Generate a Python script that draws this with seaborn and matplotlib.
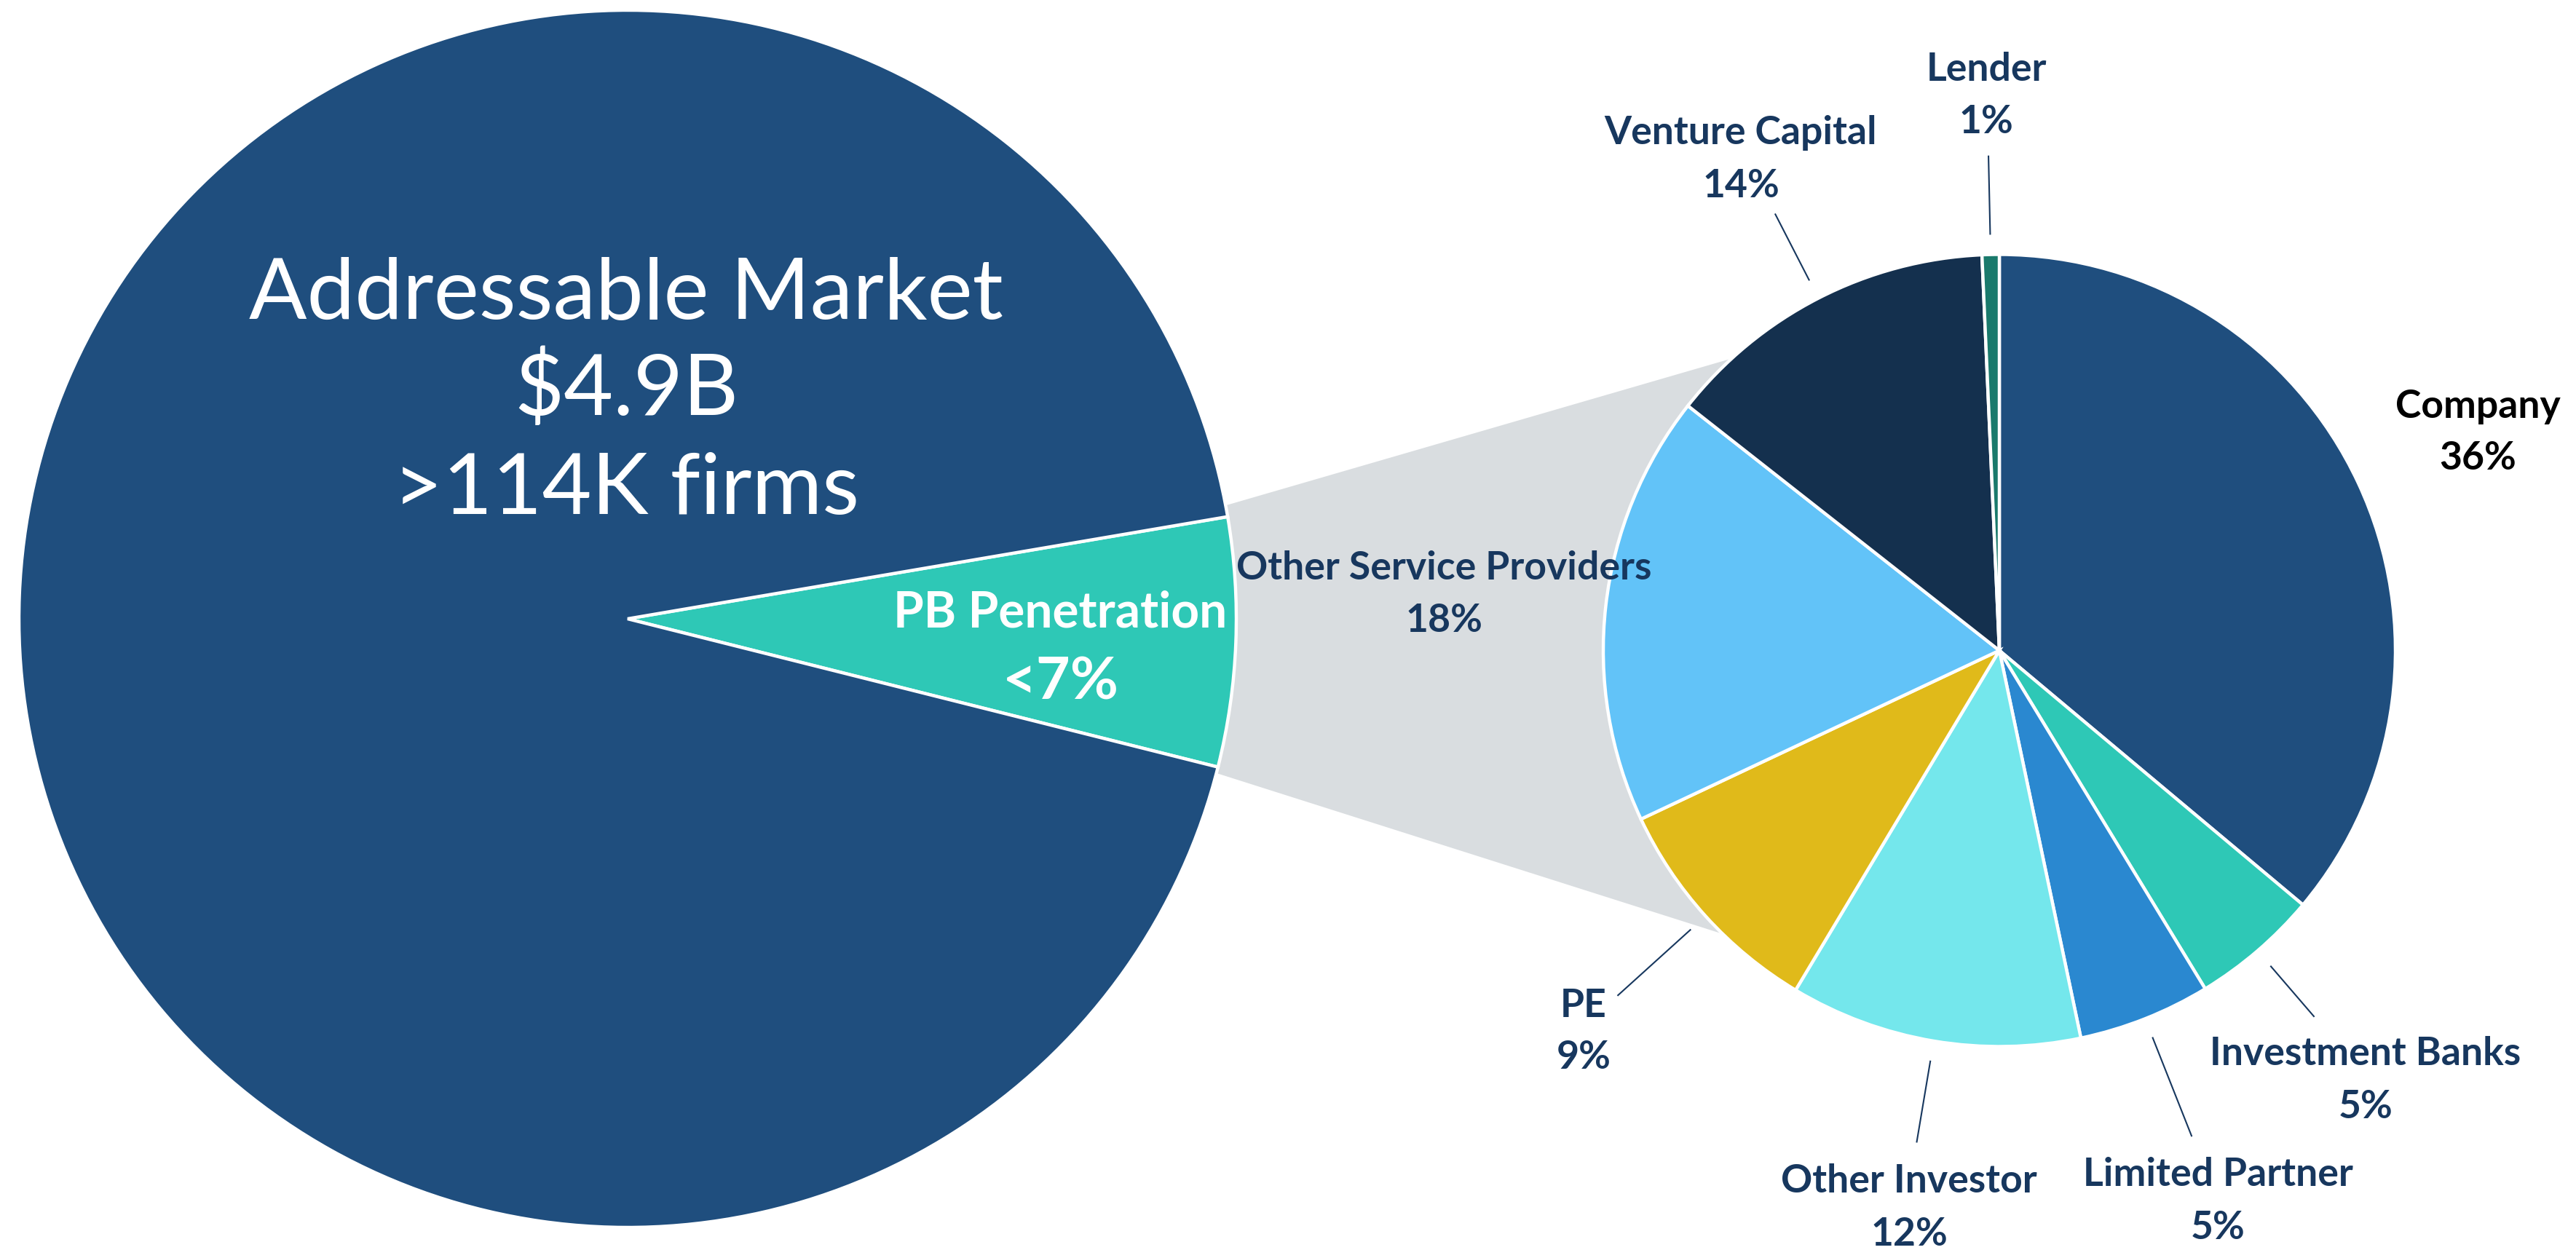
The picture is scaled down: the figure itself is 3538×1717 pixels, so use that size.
import numpy as np
import matplotlib
matplotlib.use("Agg")
import matplotlib.pyplot as plt
import seaborn as sns
from matplotlib.patches import Polygon

# ---- data -------------------------------------------------------------
market_labels = ["PB Penetration", "Remaining Market"]
market_values = [6.6, 93.4]

segment_labels = ["Company", "Investment Banks", "Limited Partner", "Other Investor",
                  "PE", "Other Service Providers", "Venture Capital", "Lender"]
segment_values = [36.1, 5.2, 5.4, 11.9, 9.4, 17.6, 13.7, 0.7]

headline_lines = ["Addressable Market", "$4.9B", ">114K firms"]
penetration_lines = ["PB Penetration", "<7%"]

# ---- style --------------------------------------------------------------
sns.set_theme(style="white")
plt.rcParams["font.family"] = ["Lato", "DejaVu Sans"]

market_colors = sns.color_palette(["#2EC8B6", "#1F4E7E"])
segment_colors = sns.color_palette(["#1F4E7E", "#2EC8B6", "#2A88D0", "#74E7EC",
                                    "#E0BA1A", "#62C3F8", "#14304E", "#1A7A6C"])
NAVY = "#17375E"
GREY = "#D9DDE0"

W, H = 3538, 1717
fig = plt.figure(figsize=(W / 100, H / 100), dpi=100)
ax = fig.add_axes([0, 0, 1, 1])


def Y(y_img):
    return H - y_img


# ---- pies ---------------------------------------------------------------
left_c, left_r = (862, Y(850)), 836
right_c, right_r = (2746, Y(893.5)), 544

edge = dict(edgecolor="white", linewidth=3.2, zorder=3)

left_wedges, _ = ax.pie(market_values, colors=market_colors, startangle=-14.1,
                        counterclock=True, center=left_c, radius=left_r,
                        wedgeprops=edge, frame=True)
right_wedges, _ = ax.pie(segment_values, colors=segment_colors, startangle=90,
                         counterclock=False, center=right_c, radius=right_r,
                         wedgeprops=edge, frame=True)


def on_circle(c, r, deg):
    a = np.deg2rad(deg)
    return (c[0] + r * np.cos(a), c[1] + r * np.sin(a))


# grey band linking the penetration slice to the breakdown pie
pb = left_wedges[0]
band = [on_circle(left_c, left_r + 4, pb.theta2 + 1.1),
        on_circle(right_c, right_r, 132.5),
        right_c,
        on_circle(right_c, right_r, -134.3),
        on_circle(left_c, left_r + 4, pb.theta1 - 0.6),
        left_c]
ax.add_patch(Polygon(band, closed=True, facecolor=GREY, edgecolor="none", zorder=1))

# ---- text helpers ---------------------------------------------------------
renderer = fig.canvas.get_renderer()


def fit_width(txt, target):
    bb = txt.get_window_extent(renderer=renderer)
    txt.set_fontsize(txt.get_fontsize() * target / bb.width)
    return txt.get_fontsize()


# headline inside the large pie
head_base = [438, 570, 706]
t0 = ax.text(860, Y(head_base[0]), headline_lines[0], ha="center", va="baseline",
             color="white", fontsize=80, zorder=5)
fs = fit_width(t0, 1036)
for line, yb in zip(headline_lines[1:], head_base[1:]):
    ax.text(860, Y(yb), line, ha="center", va="baseline", color="white",
            fontsize=fs, zorder=5)

# penetration slice label
tp = ax.text(1456, Y(862), penetration_lines[0], ha="center", va="baseline",
             color="white", fontweight="bold", fontsize=30, zorder=5)
fit_width(tp, 458)
tq = ax.text(1457, Y(960), penetration_lines[1], ha="center", va="baseline",
             color="white", fontweight="bold", fontsize=40, zorder=5)
fit_width(tq, 160)

# segment labels: centre x, baseline of name, baseline of percentage
label_pos = {
    "Company": (3403, 574, 645),
    "Investment Banks": (3249, 1463, 1536),
    "Limited Partner": (3046, 1629, 1702),
    "Other Investor": (2622, 1638, 1711),
    "PE": (2175, 1397, 1468),
    "Other Service Providers": (1983, 796, 868),
    "Venture Capital": (2391, 198, 271),
    "Lender": (2728, 111, 183),
}
probe = ax.text(0, 0, "Other Service Providers", fontweight="bold", fontsize=30)
label_fs = fit_width(probe, 569)
probe.remove()

for name, val in zip(segment_labels, segment_values):
    x, b1, b2 = label_pos[name]
    col = "black" if name == "Company" else NAVY
    ax.text(x, Y(b1), name, ha="center", va="baseline", color=col,
            fontweight="bold", fontsize=label_fs, zorder=5)
    ax.text(x, Y(b2), f"{val:.0f}%", ha="center", va="baseline", color=col,
            fontweight="bold", fontsize=label_fs, zorder=5)

# radial leader lines (outer reach as a multiple of the pie radius)
leader_reach = {"Investment Banks": 1.22, "Limited Partner": 1.32,
                "Other Investor": 1.26, "PE": 1.30, "Venture Capital": 1.24,
                "Lender": 1.25}
for w, name in zip(right_wedges, segment_labels):
    if name not in leader_reach:
        continue
    mid = 0.5 * (w.theta1 + w.theta2)
    p1 = on_circle(right_c, right_r * 1.05, mid)
    p2 = on_circle(right_c, right_r * leader_reach[name], mid)
    ax.plot([p1[0], p2[0]], [p1[1], p2[1]], color=NAVY, lw=1.5, zorder=4,
            solid_capstyle="butt")

ax.set_xlim(0, W)
ax.set_ylim(0, H)
ax.set_aspect("auto")
ax.axis("off")

fig.savefig("out.png", dpi=100, facecolor="white")
